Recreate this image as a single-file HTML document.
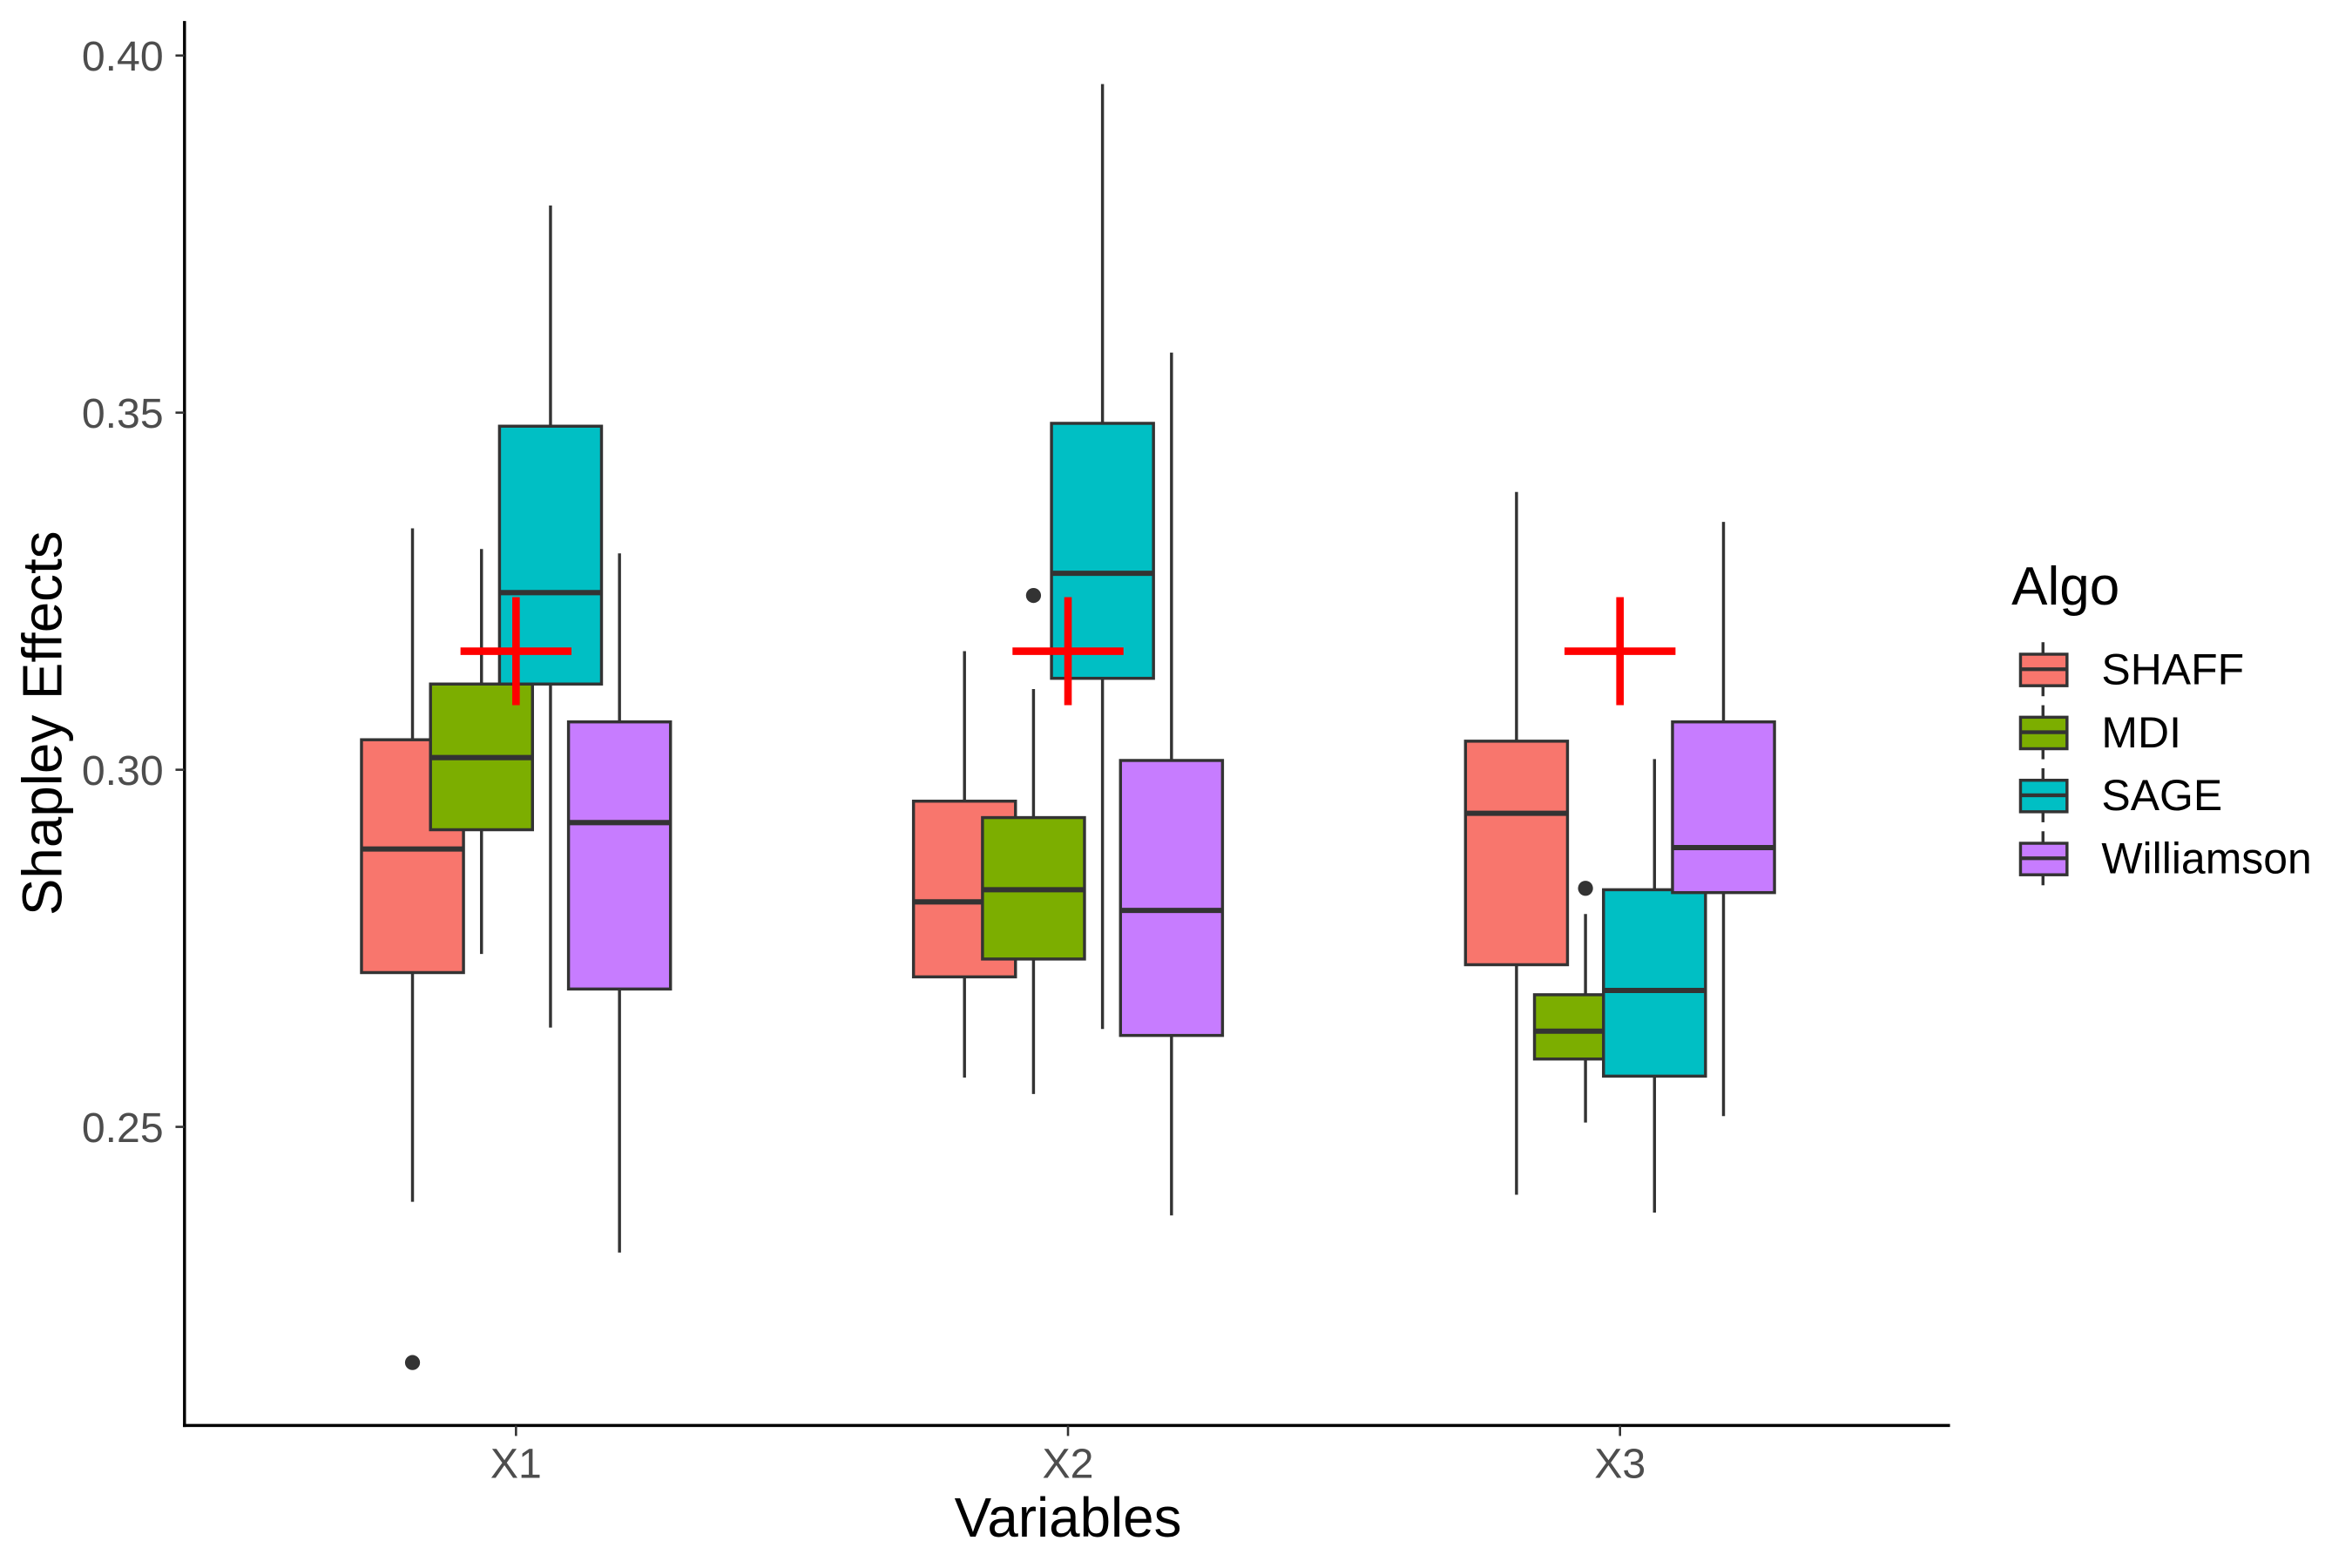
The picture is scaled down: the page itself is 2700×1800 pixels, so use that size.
<!DOCTYPE html>
<html><head><meta charset="utf-8"><style>
html,body{margin:0;padding:0;background:#fff;}
svg{display:block;font-family:"Liberation Sans",sans-serif;}
</style></head><body>
<svg id="chart" width="2700" height="1800" viewBox="0 0 1568 1045" preserveAspectRatio="none">
<g id="g"></g>
</svg>
<script>
const categories = ["X1","X2","X3"];
const algos = ["SHAFF","MDI","SAGE","Williamson"];
const colors = ["#F8766D","#7CAE00","#00BFC4","#C77CFF"];
// [low whisker, Q1, median, Q3, high whisker] per category per algo
const shaffStats = [[0.2395,0.2716,0.2889,0.3042,0.3338],[0.2569,0.2710,0.2815,0.2956,0.3166],[0.2405,0.2727,0.2939,0.3040,0.3389]];
const mdiStats   = [[0.2742,0.2916,0.3017,0.3120,0.3309],[0.2546,0.2735,0.2832,0.2933,0.3113],[0.2506,0.2595,0.2634,0.2685,0.2798]];
const sageStats  = [[0.2639,0.3120,0.3248,0.3481,0.3790],[0.2637,0.3128,0.3275,0.3485,0.3960],[0.2380,0.2571,0.2691,0.2832,0.3015]];
const willStats  = [[0.2324,0.2693,0.2926,0.3067,0.3303],[0.2376,0.2628,0.2803,0.3013,0.3584],[0.2515,0.2828,0.2891,0.3067,0.3347]];
// outliers: [category index, algo index, value]
const outliers = [[0,0,0.2170],[1,1,0.3244],[2,1,0.2834]];
const trueValues = [0.3166,0.3166,0.3166];
const yTicks = [0.25,0.30,0.35,0.40];
const yTickLabels = ["0.25","0.30","0.35","0.40"];

const allStats=[shaffStats,mdiStats,sageStats,willStats];
const NS="http://www.w3.org/2000/svg";
const g=document.getElementById('g');
function yS(v){return 37+(0.40-v)/0.05*238;}
function xS(i){return 344+i*368;}
function dodge(a){return (a-1.5)*46;}
function mk(tag,attrs,parent){const e=document.createElementNS(NS,tag);for(const k in attrs)e.setAttribute(k,attrs[k]);(parent||g).appendChild(e);return e;}

let e=mk('line',{x1:123,y1:14,x2:123,y2:951,stroke:'#000','stroke-width':2});


e=mk('line',{x1:122,y1:950,x2:1300,y2:950,stroke:'#000','stroke-width':2});


yTicks.forEach((t,i)=>{
  const y=yS(t);
  let l=mk('line',{x1:117,y1:y,x2:123,y2:y,stroke:'#333','stroke-width':1.5});
  
  
  let tx=mk('text',{x:109,y:y+10,'text-anchor':'end','font-size':28,fill:'#4d4d4d'});
  tx.textContent=yTickLabels[i];
  
  
});
categories.forEach((c,i)=>{
  const x=xS(i);
  let l=mk('line',{x1:x,y1:950,x2:x,y2:957,stroke:'#333','stroke-width':1.5});
  
  
  let tx=mk('text',{x:x,y:985,'text-anchor':'middle','font-size':28,fill:'#4d4d4d'});
  tx.textContent=c;
  
  
});
e=mk('text',{x:712,y:1024,'text-anchor':'middle','font-size':37,fill:'#000'});
e.textContent='Variables';


e=mk('text',{x:0,y:0,'text-anchor':'middle','font-size':37,fill:'#000',transform:'translate(41,482) rotate(-90)'});
e.textContent='Shapley Effects';



allStats.forEach((stats,a)=>{
  stats.forEach((s,i)=>{
    const cx=xS(i)+dodge(a), hw=34;
    const grp=mk('g',{});
    
    
    mk('line',{x1:cx,y1:yS(s[4]),x2:cx,y2:yS(s[3]),stroke:'#333','stroke-width':2},grp);
    mk('line',{x1:cx,y1:yS(s[1]),x2:cx,y2:yS(s[0]),stroke:'#333','stroke-width':2},grp);
    mk('rect',{x:cx-hw,y:yS(s[3]),width:2*hw,height:yS(s[1])-yS(s[3]),fill:colors[a],stroke:'#333','stroke-width':2},grp);
    mk('line',{x1:cx-hw,y1:yS(s[2]),x2:cx+hw,y2:yS(s[2]),stroke:'#333','stroke-width':3.5},grp);
  });
});
outliers.forEach(o=>{
  const c=mk('circle',{cx:xS(o[0])+dodge(o[1]),cy:yS(o[2]),r:5,fill:'#333'});
  
  
});
trueValues.forEach((v,i)=>{
  const x=xS(i),y=yS(v);
  const grp=mk('g',{});
  
  
  mk('line',{x1:x-37,y1:y,x2:x+37,y2:y,stroke:'#ff0000','stroke-width':5},grp);
  mk('line',{x1:x,y1:y-36,x2:x,y2:y+36,stroke:'#ff0000','stroke-width':5},grp);
});

e=mk('text',{x:1341,y:403,'font-size':36,fill:'#000'});
e.textContent='Algo';


algos.forEach((n,a)=>{
  const y=446+a*42;
  const grp=mk('g',{});
  
  
  mk('line',{x1:1362,y1:y-18,x2:1362,y2:y+18,stroke:'#333','stroke-width':2},grp);
  mk('rect',{x:1347,y:y-10,width:31,height:21,fill:colors[a],stroke:'#333','stroke-width':2},grp);
  mk('line',{x1:1347,y1:y,x2:1378,y2:y,stroke:'#333','stroke-width':2.5},grp);
  const t=mk('text',{x:1401,y:y+10,'font-size':29,fill:'#000'},grp);
  t.textContent=n;
});
</script>
</body></html>
